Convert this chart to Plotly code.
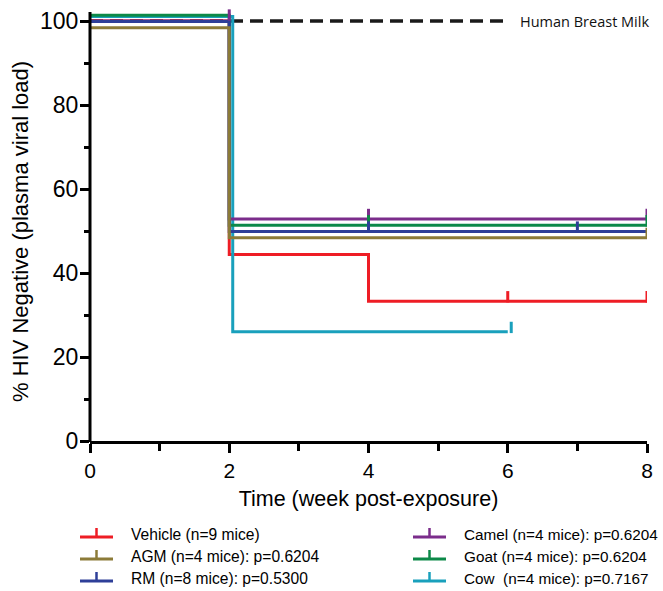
import plotly.graph_objects as go

# ---- data ----
groups = ["Vehicle", "Camel", "AGM", "Goat", "RM", "Cow"]
labels = {
    "Vehicle": "Vehicle (n=9 mice)",
    "AGM": "AGM (n=4 mice): p=0.6204",
    "RM": "RM (n=8 mice): p=0.5300",
    "Camel": "Camel (n=4 mice): p=0.6204",
    "Goat": "Goat (n=4 mice): p=0.6204",
    "Cow": "Cow  (n=4 mice): p=0.7167",
}
colors = {
    "Vehicle": "#EE1D25",
    "AGM": "#8C7B38",
    "RM": "#2E3F98",
    "Camel": "#7B2D8B",
    "Goat": "#0C8948",
    "Cow": "#19A0BC",
}
# step-curve times and % HIV negative (as drawn, with small plot offsets)
times = {
    "Vehicle": [0, 2, 4, 8],
    "Cow": [0, 2.05, 6],
    "Camel": [0, 2, 8],
    "Goat": [0, 2, 8],
    "RM": [0, 2, 8],
    "AGM": [0, 2, 8],
}
values = {
    "Vehicle": [100, 44.4, 33.3, 33.3],
    "Cow": [101.1, 26.0, 26.0],
    "Camel": [100.0, 52.9, 52.9],
    "Goat": [101.4, 51.4, 51.4],
    "RM": [99.9, 49.9, 49.9],
    "AGM": [98.4, 48.4, 48.4],
}
# censored observations (time, level)
censor_t = {
    "Vehicle": [6, 8],
    "Cow": [6.05],
    "Camel": [2, 4, 8],
    "Goat": [4, 8],
    "RM": [4, 7],
    "AGM": [8],
}
censor_y = {
    "Vehicle": [33.3, 33.3],
    "Cow": [26.0],
    "Camel": [100.4, 52.9, 52.9],
    "Goat": [51.4, 51.4],
    "RM": [49.9, 49.9],
    "AGM": [48.4],
}
tick_h = 2.4
hbm_x = [0, 5.96]
hbm_y = [100, 100]
hbm_label = "Human Breast Milk"

x_ticks = [0, 2, 4, 6, 8]
y_ticks = [0, 20, 40, 60, 80, 100]
y_title = "% HIV Negative (plasma viral load)"
x_title = "Time (week post-exposure)"

W, H = 663, 591
L, R, T, B = 90, 16, 6, 150
YMAX = 103.6

fig = go.Figure()

fig.add_trace(go.Scatter(x=hbm_x, y=hbm_y, mode="lines",
                         line=dict(color="#1a1a1a", width=3.5, dash="13px,7px"),
                         showlegend=False, hoverinfo="skip"))

draw_order = ["Vehicle", "Cow", "Camel", "Goat", "RM", "AGM"]
for g in draw_order:
    fig.add_trace(go.Scatter(x=times[g], y=values[g], mode="lines",
                             line=dict(color=colors[g], width=3, shape="hv"),
                             name=labels[g], showlegend=False))
for g in draw_order:
    xs, ys = [], []
    for t, v in zip(censor_t[g], censor_y[g]):
        xs += [t, t, None]
        ys += [v - 0.3, v + tick_h, None]
    fig.add_trace(go.Scatter(x=xs, y=ys, mode="lines",
                             line=dict(color=colors[g], width=3),
                             showlegend=False, hoverinfo="skip"))

fig.add_annotation(x=6.14, y=100, xref="x", yref="y", text=hbm_label,
                   showarrow=False, xanchor="left", yanchor="middle",
                   font=dict(family="Open Sans", size=14.5, color="#111111"))

pw, ph = W - L - R, H - T - B


def px(xp):
    return (xp - L) / pw


def py(yp):
    return (H - B - yp) / ph


# y axis line (stops a little above 100)
fig.add_shape(type="line", xref="paper", yref="paper", x0=0, x1=0,
              y0=py(442), y1=py(12), line=dict(color="black", width=3))

# y axis title
fig.add_annotation(x=px(20), y=py(232), xref="paper", yref="paper", text=y_title,
                   showarrow=False, textangle=-90, xanchor="center", yanchor="middle",
                   font=dict(family="Liberation Sans", size=22, color="black"))

# manual legend (two columns)
col_left = ["Vehicle", "AGM", "RM"]
col_right = ["Camel", "Goat", "Cow"]
rows_y = [534, 556, 578]
for col, (sx0, sx1, tx, fs) in [(col_left, (80, 113, 129, 15.6)),
                                (col_right, (413, 446, 462, 15.3))]:
    for g, ry in zip(col, rows_y):
        ly = ry + 3
        fig.add_shape(type="line", xref="paper", yref="paper",
                      x0=px(sx0), x1=px(sx1), y0=py(ly), y1=py(ly),
                      line=dict(color=colors[g], width=3))
        mx = (sx0 + sx1) / 2
        fig.add_shape(type="line", xref="paper", yref="paper",
                      x0=px(mx), x1=px(mx), y0=py(ly), y1=py(ly - 9),
                      line=dict(color=colors[g], width=2.5))
        fig.add_annotation(x=px(tx), y=py(ry), xref="paper", yref="paper",
                           text=labels[g], showarrow=False,
                           xanchor="left", yanchor="middle",
                           font=dict(family="Liberation Sans", size=fs, color="black"))

fig.update_layout(
    width=W, height=H,
    margin=dict(l=L, r=R, t=T, b=B),
    plot_bgcolor="white", paper_bgcolor="white",
    font=dict(family="Liberation Sans", size=20, color="black"),
    showlegend=False,
)
fig.update_xaxes(range=[0, 8], tickvals=x_ticks, ticks="outside", ticklen=9,
                 tickwidth=3, tickcolor="black", showline=True, linewidth=3,
                 linecolor="black", showgrid=False, zeroline=False,
                 minor=dict(dtick=1, ticks="outside", ticklen=7, tickwidth=3,
                            tickcolor="black", showgrid=False),
                 tickfont=dict(size=21),
                 title=dict(text=x_title, font=dict(size=21.5), standoff=10))
fig.update_yaxes(range=[0, YMAX], tickvals=y_ticks, ticks="outside", ticklen=9,
                 tickwidth=3, tickcolor="black", showline=False,
                 showgrid=False, zeroline=False, ticklabelstandoff=-3,
                 minor=dict(tickvals=[10, 30, 50, 70, 90], ticks="outside", ticklen=5,
                            tickwidth=3, tickcolor="black", showgrid=False),
                 tickfont=dict(size=23))

fig.write_html("out.html", config={"displayModeBar": False},
               post_script="document.body.style.margin='0px';document.body.style.overflow='hidden';")
